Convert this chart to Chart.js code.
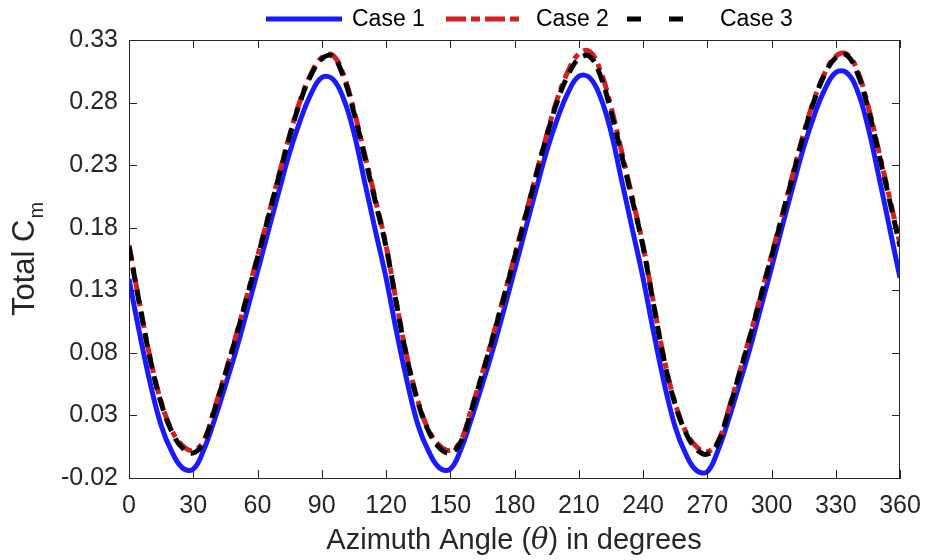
<!DOCTYPE html>
<html><head><meta charset="utf-8">
<script src="https://cdn.jsdelivr.net/npm/chart.js@4.4.1/dist/chart.umd.min.js"></script>
<style>html,body{margin:0;padding:0;background:#fff;}#wrap{width:925px;height:560px;}</style>
</head><body><div id="wrap"><canvas id="c" width="925" height="560"></canvas></div>
<script>
const seriesNames = ['Case 1', 'Case 2', 'Case 3'];
const xTickLabels = [0, 30, 60, 90, 120, 150, 180, 210, 240, 270, 300, 330, 360];
const yTickLabels = ['-0.02', '0.03', '0.08', '0.13', '0.18', '0.23', '0.28', '0.33'];
const angles = [0,5,10,15,20,25,30,35,40,45,50,55,60,65,70,75,80,85,90,95,100,105,110,115,
  120,125,130,135,140,145,150,155,160,165,170,175,180,185,190,195,200,205,210,215,220,225,230,235,
  240,245,250,255,260,265,270,275,280,285,290,295,300,305,310,315,320,325,330,335,340,345,350,355,360];
const case1 = [0.139,0.095,0.055,0.022,0.001,-0.012,-0.013,0.003,0.027,0.054,0.082,0.113,0.145,0.177,0.209,0.240,0.266,0.287,0.300,0.299,0.284,0.256,0.217,0.178,
  0.140,0.096,0.056,0.022,0.001,-0.012,-0.013,0.003,0.028,0.055,0.083,0.114,0.146,0.178,0.210,0.241,0.267,0.288,0.301,0.300,0.285,0.257,0.218,0.179,
  0.140,0.096,0.055,0.021,-0.001,-0.014,-0.015,0.002,0.027,0.055,0.084,0.116,0.148,0.181,0.213,0.244,0.270,0.291,0.304,0.304,0.290,0.261,0.222,0.181,0.140];
const case2 = [0.166,0.119,0.075,0.041,0.018,0.006,0.002,0.010,0.036,0.064,0.094,0.125,0.157,0.189,0.222,0.254,0.282,0.303,0.316,0.318,0.303,0.274,0.239,0.203,
  0.166,0.119,0.075,0.041,0.018,0.006,0.002,0.010,0.036,0.064,0.094,0.125,0.157,0.189,0.222,0.254,0.283,0.305,0.319,0.321,0.306,0.277,0.241,0.204,
  0.166,0.119,0.074,0.040,0.017,0.005,0.001,0.009,0.035,0.064,0.094,0.126,0.158,0.190,0.223,0.255,0.283,0.304,0.317,0.319,0.306,0.278,0.242,0.205,0.167];
const case3 = [0.165,0.118,0.074,0.040,0.017,0.004,0.000,0.009,0.035,0.063,0.093,0.124,0.156,0.188,0.221,0.253,0.281,0.302,0.315,0.317,0.301,0.272,0.237,0.201,
  0.165,0.118,0.074,0.040,0.017,0.004,0.000,0.009,0.035,0.063,0.093,0.124,0.156,0.188,0.221,0.253,0.281,0.302,0.315,0.317,0.302,0.273,0.238,0.202,
  0.165,0.118,0.073,0.039,0.016,0.003,-0.001,0.008,0.034,0.063,0.093,0.125,0.157,0.189,0.222,0.254,0.282,0.303,0.316,0.318,0.304,0.276,0.240,0.203,0.165];

const FONT = '"Liberation Sans", Arial, Helvetica, sans-serif';
const AX = '#262626';
const toPts = v => angles.map((a, i) => ({x: a, y: v[i]}));

const styles = [
  {color: '#1a1aff', dash: []},
  {color: '#d21f1f', dash: [16, 6, 6, 6]},
  {color: '#000000', dash: [14, 8]}
];

const decor = {
  id: 'decor',
  afterDraw(chart) {
    const ctx = chart.ctx, a = chart.chartArea;
    const xs = chart.scales.x, ys = chart.scales.y;
    ctx.save();
    ctx.strokeStyle = AX; ctx.lineWidth = 1;
    ctx.beginPath();
    ctx.moveTo(a.left, a.top + 0.5); ctx.lineTo(a.right, a.top + 0.5);
    ctx.moveTo(a.right - 0.5, a.top); ctx.lineTo(a.right - 0.5, a.bottom);
    const TL = 8;
    xs.ticks.forEach(t => {
      const px = Math.round(xs.getPixelForValue(t.value)) + 0.5;
      ctx.moveTo(px, a.bottom); ctx.lineTo(px, a.bottom - TL);
      ctx.moveTo(px, a.top); ctx.lineTo(px, a.top + TL);
    });
    ys.ticks.forEach(t => {
      const py = Math.round(ys.getPixelForValue(t.value)) + 0.5;
      ctx.moveTo(a.left, py); ctx.lineTo(a.left + TL, py);
      ctx.moveTo(a.right, py); ctx.lineTo(a.right - TL, py);
    });
    ctx.stroke();

    // legend
    const legY = 19;
    const legItems = [
      {x0: 266, x1: 342, tx: 352},
      {x0: 446, x1: 522, tx: 536},
      {x0: 627, x1: 684, tx: 720}
    ];
    ctx.font = '23px ' + FONT;
    ctx.textBaseline = 'middle';
    ctx.textAlign = 'left';
    legItems.forEach((it, i) => {
      ctx.save();
      ctx.strokeStyle = styles[i].color;
      ctx.lineWidth = 5;
      ctx.setLineDash(i === 2 ? [14, 28] : (i === 1 ? [20, 5, 9, 5] : []));
      ctx.beginPath(); ctx.moveTo(it.x0, legY); ctx.lineTo(it.x1, legY); ctx.stroke();
      ctx.restore();
      ctx.fillStyle = '#000';
      ctx.fillText(seriesNames[i], it.tx, legY + 1);
    });

    // x title
    ctx.fillStyle = AX;
    ctx.textBaseline = 'alphabetic';
    const p1 = 'Azimuth Angle (', p2 = '\u03B8', p3 = ') in degrees';
    ctx.font = '29px ' + FONT; const w1 = ctx.measureText(p1).width, w3 = ctx.measureText(p3).width;
    ctx.font = 'italic 29px "DejaVu Serif", "Liberation Serif", serif'; const w2 = ctx.measureText(p2).width;
    let x = 514 - (w1 + w2 + w3) / 2; const by = 549;
    ctx.font = '29px ' + FONT; ctx.fillText(p1, x, by); x += w1;
    ctx.font = 'italic 29px "DejaVu Serif", "Liberation Serif", serif'; ctx.fillText(p2, x, by); x += w2;
    ctx.font = '29px ' + FONT; ctx.fillText(p3, x, by);

    // y title
    ctx.save();
    ctx.translate(34, 316);
    ctx.rotate(-Math.PI / 2);
    ctx.font = '31px ' + FONT;
    const tw = ctx.measureText('Total C').width;
    ctx.fillText('Total C', 0, 0);
    ctx.font = '20px ' + FONT;
    ctx.fillText('m', tw + 1, 9);
    ctx.restore();
    ctx.restore();
  }
};

new Chart(document.getElementById('c'), {
  type: 'line',
  data: {
    datasets: [case1, case2, case3].map((v, i) => ({
      label: seriesNames[i],
      data: toPts(v),
      borderColor: styles[i].color,
      borderDash: styles[i].dash,
      borderWidth: 5,
      pointRadius: 0,
      fill: false,
      tension: 0.4,
      order: 3 - i
    }))
  },
  options: {
    responsive: false,
    animation: false,
    devicePixelRatio: 1,
    layout: {padding: {left: 0, right: 25, top: 40, bottom: 0}},
    plugins: {legend: {display: false}, tooltip: {enabled: false}},
    scales: {
      x: {
        type: 'linear', min: 0, max: 360,
        afterFit: s => { s.height = 82; s.paddingLeft = 0; s.paddingRight = 0; },
        afterBuildTicks: s => { s.ticks = xTickLabels.map(v => ({value: v})); },
        ticks: {font: {family: FONT, size: 25}, color: AX, padding: 13, maxRotation: 0, autoSkip: false,
          callback: v => String(v)},
        grid: {drawOnChartArea: false, drawTicks: false},
        border: {display: true, color: AX, width: 1}
      },
      y: {
        type: 'linear', min: -0.02, max: 0.33,
        afterFit: s => { s.width = 129; s.paddingTop = 0; s.paddingBottom = 0; },
        afterBuildTicks: s => { s.ticks = yTickLabels.map(v => ({value: parseFloat(v)})); },
        ticks: {font: {family: FONT, size: 25}, color: AX, padding: 11, autoSkip: false,
          callback: v => yTickLabels.find(t => Math.abs(parseFloat(t) - v) < 1e-9) || ''},
        grid: {drawOnChartArea: false, drawTicks: false},
        border: {display: true, color: AX, width: 1}
      }
    }
  },
  plugins: [decor]
});
</script></body></html>
